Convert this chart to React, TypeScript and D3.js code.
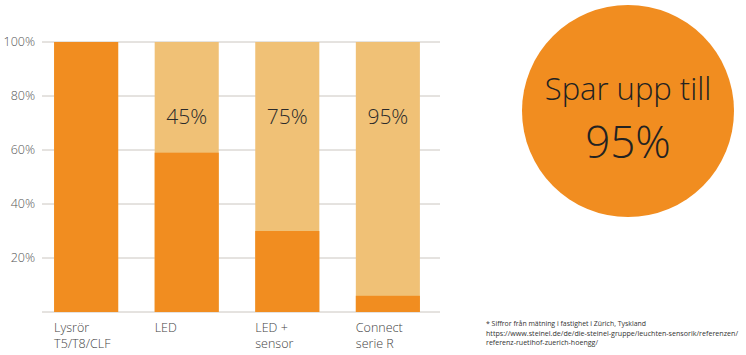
import React from "react";
import * as d3 from "d3";

const categories = ["Lysrör\nT5/T8/CLF", "LED", "LED +\nsensor", "Connect\nserie R"];
const usedValues = [100, 59, 30, 6];
const totalValues = [100, 100, 100, 100];
const savingLabels = ["", "45%", "75%", "95%"];
const yTicks = [20, 40, 60, 80, 100];
const footnoteLines = [
  "* Siffror från mätning i fastighet i Zürich, Tyskland",
  "https://www.steinel.de/de/die-steinel-gruppe/leuchten-sensorik/referenzen/",
  "referenz-ruetihof-zuerich-hoengg/",
];
const footnoteWidths = [160, 252, 112];
const bubbleLines = ["Spar upp till", "95%"];

const DARK = "#f18d20";
const LIGHT = "#f0c176";
const FONT = "'Open Sans', 'Noto Sans', sans-serif";

export default function App() {
  const W = 746, H = 355;
  const x = d3.scaleBand<string>().domain(categories).range([36, 438]).paddingInner(0.363).paddingOuter(0.18);
  const y = d3.scaleLinear().domain([0, 100]).range([312, 42]);
  const gx0 = 42, gx1 = 440;
  return (
    <svg width={W} height={H} style={{ position: "absolute", left: 0, top: 0 }} fontFamily={FONT}>
      <rect width={W} height={H} fill="#fff" />
      {yTicks.map((t) => (
        <g key={t}>
          <line x1={gx0} x2={gx1} y1={y(t)} y2={y(t)} stroke="#cbc6c0" strokeWidth={1} />
          <text x={35} y={y(t)} dy="0.35em" textAnchor="end" fontSize={12.5} fill="#555" fontWeight={300}>
            {t}%
          </text>
        </g>
      ))}
      <line x1={gx0} x2={gx1} y1={y(0)} y2={y(0)} stroke="#cbc6c0" strokeWidth={1} />
      {categories.map((c, i) => {
        const bx = x(c)!;
        const bw = x.bandwidth();
        return (
          <g key={c}>
            <rect x={bx} y={y(totalValues[i])} width={bw} height={y(0) - y(totalValues[i])} fill={LIGHT} />
            <rect x={bx} y={y(usedValues[i])} width={bw} height={y(0) - y(usedValues[i])} fill={DARK} />
            {savingLabels[i] && (
              <text x={bx + bw / 2} y={y(72.5)} dy="0.35em" textAnchor="middle" fontSize={21} fontWeight={300} fill="#2a2a2a">
                {savingLabels[i]}
              </text>
            )}
            {c.split("\n").map((ln, j) => (
              <text key={j} x={bx} y={332 + j * 15.5} fontSize={12.5} fontWeight={300} fill="#444">
                {ln}
              </text>
            ))}
          </g>
        );
      })}
      <circle cx={628} cy={111} r={106} fill={DARK} />
      <text x={628} y={100} textAnchor="middle" fontSize={31} fontWeight={300} fill="#222">
        {bubbleLines[0]}
      </text>
      <text x={628} y={158} textAnchor="middle" fontSize={44} fontWeight={300} fill="#222">
        {bubbleLines[1]}
      </text>
      {footnoteLines.map((ln, i) => (
        <text key={i} x={486} y={326 + i * 9.5} fontSize={7.0} fill="#333" textLength={footnoteWidths[i]} lengthAdjust="spacingAndGlyphs">
          {ln}
        </text>
      ))}
    </svg>
  );
}
